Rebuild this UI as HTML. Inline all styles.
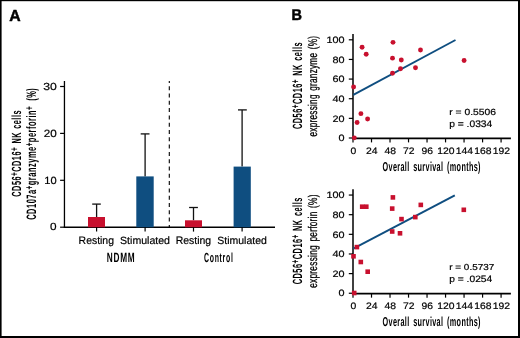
<!DOCTYPE html>
<html><head><meta charset="utf-8"><style>
html,body{margin:0;padding:0;background:#fff;width:520px;height:338px;overflow:hidden;}
svg{display:block;will-change:transform;font-family:"Liberation Sans", sans-serif;text-rendering:geometricPrecision;}
</style></head><body>
<svg width="520" height="338" viewBox="0 0 520 338">
<rect x="0" y="0" width="520" height="338" fill="#000"/>
<rect x="1.6" y="1.2" width="516.4" height="334.8" fill="#fff"/>
<text transform="translate(9.308,20.685) scale(0.9882,1)" font-size="15.997" font-weight="bold" fill="#000" stroke="#000" stroke-width="0.5" stroke-linejoin="round">A</text>
<text transform="translate(291.451,20.232) scale(0.9365,1)" font-size="15.468" font-weight="bold" fill="#000" stroke="#000" stroke-width="0.5" stroke-linejoin="round">B</text>
<line x1="64.45" y1="81" x2="64.45" y2="227.95000000000002" stroke="#000" stroke-width="1.3"/>
<line x1="63.800000000000004" y1="227.3" x2="275" y2="227.3" stroke="#000" stroke-width="1.5"/>
<line x1="60.1" y1="227.20" x2="64.45" y2="227.20" stroke="#000" stroke-width="1.2"/>
<line x1="60.1" y1="180.30" x2="64.45" y2="180.30" stroke="#000" stroke-width="1.2"/>
<line x1="60.1" y1="133.40" x2="64.45" y2="133.40" stroke="#000" stroke-width="1.2"/>
<line x1="60.1" y1="86.50" x2="64.45" y2="86.50" stroke="#000" stroke-width="1.2"/>
<text transform="translate(49.876,230.183) scale(1.1324,1)" font-size="10.429" fill="#000" stroke="#000" stroke-width="0.2">0</text>
<text transform="translate(44.215,183.627) scale(1.0595,1)" font-size="10.476" fill="#000" stroke="#000" stroke-width="0.2">10</text>
<text transform="translate(43.664,136.626) scale(1.1051,1)" font-size="10.546" fill="#000" stroke="#000" stroke-width="0.2">20</text>
<text transform="translate(43.254,89.517) scale(1.1851,1)" font-size="10.328" fill="#000" stroke="#000" stroke-width="0.2">30</text>
<line x1="169.3" y1="81" x2="169.3" y2="227.3" stroke="#000" stroke-width="1.1" stroke-dasharray="4 3.3" stroke-dashoffset="2.1"/>
<line x1="96.6" y1="204.1" x2="96.6" y2="217.0" stroke="#111" stroke-width="1.3"/>
<line x1="92.2" y1="204.1" x2="100.8" y2="204.1" stroke="#111" stroke-width="1.3"/>
<rect x="88.0" y="217.0" width="17.00" height="10.30" fill="#c8102e"/>
<line x1="96.6" y1="227.3" x2="96.6" y2="231.6" stroke="#000" stroke-width="1.2"/>
<line x1="145.1" y1="133.9" x2="145.1" y2="176.4" stroke="#111" stroke-width="1.3"/>
<line x1="140.7" y1="133.9" x2="149.5" y2="133.9" stroke="#111" stroke-width="1.3"/>
<rect x="136.3" y="176.4" width="17.40" height="50.90" fill="#0f4e80"/>
<line x1="145.1" y1="227.3" x2="145.1" y2="231.6" stroke="#000" stroke-width="1.2"/>
<line x1="193.5" y1="207.5" x2="193.5" y2="220.3" stroke="#111" stroke-width="1.3"/>
<line x1="189.1" y1="207.5" x2="197.9" y2="207.5" stroke="#111" stroke-width="1.3"/>
<rect x="185.0" y="220.3" width="17.00" height="7.00" fill="#c8102e"/>
<line x1="193.5" y1="227.3" x2="193.5" y2="231.6" stroke="#000" stroke-width="1.2"/>
<line x1="242.1" y1="109.9" x2="242.1" y2="166.6" stroke="#111" stroke-width="1.3"/>
<line x1="238.0" y1="109.9" x2="246.8" y2="109.9" stroke="#111" stroke-width="1.3"/>
<rect x="233.6" y="166.6" width="17.20" height="60.70" fill="#0f4e80"/>
<line x1="242.1" y1="227.3" x2="242.1" y2="231.6" stroke="#000" stroke-width="1.2"/>
<text transform="translate(78.610,243.578) scale(0.9589,1)" font-size="10.894" fill="#000" stroke="#000" stroke-width="0.2">Resting</text>
<text transform="translate(120.042,243.651) scale(1.0022,1)" font-size="10.557" fill="#000" stroke="#000" stroke-width="0.2">Stimulated</text>
<text transform="translate(175.721,243.636) scale(0.9633,1)" font-size="10.867" fill="#000" stroke="#000" stroke-width="0.2">Resting</text>
<text transform="translate(217.340,243.985) scale(0.9941,1)" font-size="10.547" fill="#000" stroke="#000" stroke-width="0.2">Stimulated</text>
<text transform="translate(106.628,262.203) scale(0.6154,1)" font-size="13.418" font-weight="bold" fill="#000" letter-spacing="1.3" word-spacing="1.5">NDMM</text>
<text transform="translate(204.025,262.001) scale(0.5297,1)" font-size="13.128" font-weight="bold" fill="#000" letter-spacing="1.3" word-spacing="1.5">Control</text>
<text transform="translate(20.899,196.692) rotate(-90) scale(0.5533,1)" font-size="13.263" font-weight="bold" fill="#000" letter-spacing="0.9" word-spacing="1.2">CD56<tspan dy="-3" font-size="11.5">+</tspan><tspan dy="3">CD16</tspan><tspan dy="-3" font-size="11.5">+</tspan><tspan dy="3"> NK cells</tspan></text>
<text transform="translate(36.433,219.817) rotate(-90) scale(0.5481,1)" font-size="13.660" font-weight="bold" fill="#000" letter-spacing="0.9" word-spacing="1.2">CD107a<tspan dy="-3" font-size="11.5">+</tspan><tspan dy="3">granzyme</tspan><tspan dy="-3" font-size="11.5">+</tspan><tspan dy="3">perforin</tspan><tspan dy="-3" font-size="11.5">+</tspan><tspan dy="3"> <tspan dx="3">(%)</tspan></tspan></text>
<line x1="353.0" y1="33.90" x2="353.0" y2="138.80" stroke="#000" stroke-width="1.5"/>
<line x1="352.25" y1="138.35" x2="510.9" y2="138.35" stroke="#000" stroke-width="1.6"/>
<line x1="348.8" y1="138.00" x2="353.0" y2="138.00" stroke="#000" stroke-width="1.2"/>
<line x1="348.8" y1="118.36" x2="353.0" y2="118.36" stroke="#000" stroke-width="1.2"/>
<line x1="348.8" y1="98.72" x2="353.0" y2="98.72" stroke="#000" stroke-width="1.2"/>
<line x1="348.8" y1="79.08" x2="353.0" y2="79.08" stroke="#000" stroke-width="1.2"/>
<line x1="348.8" y1="59.44" x2="353.0" y2="59.44" stroke="#000" stroke-width="1.2"/>
<line x1="348.8" y1="39.80" x2="353.0" y2="39.80" stroke="#000" stroke-width="1.2"/>
<text transform="translate(344.55,141.235) scale(1.1714,1)" font-size="9.260" text-anchor="end" fill="#000" stroke="#000" stroke-width="0.2">0</text>
<text transform="translate(344.55,121.595) scale(1.1714,1)" font-size="9.260" text-anchor="end" fill="#000" stroke="#000" stroke-width="0.2">20</text>
<text transform="translate(344.55,101.955) scale(1.1714,1)" font-size="9.260" text-anchor="end" fill="#000" stroke="#000" stroke-width="0.2">40</text>
<text transform="translate(344.55,82.315) scale(1.1714,1)" font-size="9.260" text-anchor="end" fill="#000" stroke="#000" stroke-width="0.2">60</text>
<text transform="translate(344.55,62.675) scale(1.1714,1)" font-size="9.260" text-anchor="end" fill="#000" stroke="#000" stroke-width="0.2">80</text>
<text transform="translate(344.55,43.035) scale(1.1714,1)" font-size="9.260" text-anchor="end" fill="#000" stroke="#000" stroke-width="0.2">100</text>
<line x1="353.00" y1="138.35" x2="353.00" y2="142.40" stroke="#000" stroke-width="1.2"/>
<text transform="translate(353.30,153.796) scale(1.1073,1)" font-size="9.360" text-anchor="middle" fill="#000" stroke="#000" stroke-width="0.2">0</text>
<line x1="371.51" y1="138.35" x2="371.51" y2="142.40" stroke="#000" stroke-width="1.2"/>
<text transform="translate(371.81,153.796) scale(1.1073,1)" font-size="9.360" text-anchor="middle" fill="#000" stroke="#000" stroke-width="0.2">24</text>
<line x1="390.02" y1="138.35" x2="390.02" y2="142.40" stroke="#000" stroke-width="1.2"/>
<text transform="translate(390.32,153.796) scale(1.1073,1)" font-size="9.360" text-anchor="middle" fill="#000" stroke="#000" stroke-width="0.2">48</text>
<line x1="408.53" y1="138.35" x2="408.53" y2="142.40" stroke="#000" stroke-width="1.2"/>
<text transform="translate(408.83,153.796) scale(1.1073,1)" font-size="9.360" text-anchor="middle" fill="#000" stroke="#000" stroke-width="0.2">72</text>
<line x1="427.04" y1="138.35" x2="427.04" y2="142.40" stroke="#000" stroke-width="1.2"/>
<text transform="translate(427.34,153.796) scale(1.1073,1)" font-size="9.360" text-anchor="middle" fill="#000" stroke="#000" stroke-width="0.2">96</text>
<line x1="445.55" y1="138.35" x2="445.55" y2="142.40" stroke="#000" stroke-width="1.2"/>
<text transform="translate(445.85,153.796) scale(1.1073,1)" font-size="9.360" text-anchor="middle" fill="#000" stroke="#000" stroke-width="0.2">120</text>
<line x1="464.06" y1="138.35" x2="464.06" y2="142.40" stroke="#000" stroke-width="1.2"/>
<text transform="translate(464.36,153.796) scale(1.1073,1)" font-size="9.360" text-anchor="middle" fill="#000" stroke="#000" stroke-width="0.2">144</text>
<line x1="482.57" y1="138.35" x2="482.57" y2="142.40" stroke="#000" stroke-width="1.2"/>
<text transform="translate(482.87,153.796) scale(1.1073,1)" font-size="9.360" text-anchor="middle" fill="#000" stroke="#000" stroke-width="0.2">168</text>
<line x1="501.08" y1="138.35" x2="501.08" y2="142.40" stroke="#000" stroke-width="1.2"/>
<text transform="translate(501.38,153.796) scale(1.1073,1)" font-size="9.360" text-anchor="middle" fill="#000" stroke="#000" stroke-width="0.2">192</text>
<line x1="353.3" y1="94.80" x2="455.5" y2="40.00" stroke="#0f4e80" stroke-width="1.9"/>
<circle cx="362.10" cy="47.25" r="2.45" fill="#c8102e"/>
<circle cx="366.20" cy="54.25" r="2.45" fill="#c8102e"/>
<circle cx="393.00" cy="42.35" r="2.45" fill="#c8102e"/>
<circle cx="392.50" cy="58.15" r="2.45" fill="#c8102e"/>
<circle cx="401.30" cy="60.05" r="2.45" fill="#c8102e"/>
<circle cx="400.50" cy="68.75" r="2.45" fill="#c8102e"/>
<circle cx="392.50" cy="73.25" r="2.45" fill="#c8102e"/>
<circle cx="415.50" cy="67.75" r="2.45" fill="#c8102e"/>
<circle cx="420.50" cy="49.95" r="2.45" fill="#c8102e"/>
<circle cx="464.10" cy="60.45" r="2.45" fill="#c8102e"/>
<circle cx="353.60" cy="87.05" r="2.45" fill="#c8102e"/>
<circle cx="360.90" cy="113.65" r="2.45" fill="#c8102e"/>
<circle cx="357.10" cy="122.55" r="2.45" fill="#c8102e"/>
<circle cx="367.60" cy="118.95" r="2.45" fill="#c8102e"/>
<circle cx="354.30" cy="137.85" r="2.45" fill="#c8102e"/>
<text transform="translate(449.259,115.385) scale(1.1628,1)" font-size="8.862" fill="#000" stroke="#000" stroke-width="0.2">r = 0.5506</text>
<text transform="translate(449.142,126.999) scale(1.0853,1)" font-size="9.475" fill="#000" stroke="#000" stroke-width="0.2">p = .0334</text>
<text transform="translate(382.546,170.564) scale(0.5598,1)" font-size="12.968" font-weight="bold" fill="#000" letter-spacing="0.6" word-spacing="2.5">Overall survival (months)</text>
<text transform="translate(302.220,129.031) rotate(-90) scale(0.5516,1)" font-size="13.384" font-weight="bold" fill="#000" letter-spacing="0.9" word-spacing="1.2">CD56<tspan dy="-3" font-size="11.5">+</tspan><tspan dy="3">CD16</tspan><tspan dy="-3" font-size="11.5">+</tspan><tspan dy="3"> NK cells</tspan></text>
<text transform="translate(316.861,136.491) rotate(-90) scale(0.6466,1)" font-size="12.689" fill="#000" letter-spacing="0.4" word-spacing="1.5" stroke="#000" stroke-width="0.3">expressing granzyme (%)</text>
<line x1="353.0" y1="189.15" x2="353.0" y2="294.05" stroke="#000" stroke-width="1.5"/>
<line x1="352.25" y1="293.60" x2="510.9" y2="293.60" stroke="#000" stroke-width="1.6"/>
<line x1="348.8" y1="293.25" x2="353.0" y2="293.25" stroke="#000" stroke-width="1.2"/>
<line x1="348.8" y1="273.61" x2="353.0" y2="273.61" stroke="#000" stroke-width="1.2"/>
<line x1="348.8" y1="253.97" x2="353.0" y2="253.97" stroke="#000" stroke-width="1.2"/>
<line x1="348.8" y1="234.33" x2="353.0" y2="234.33" stroke="#000" stroke-width="1.2"/>
<line x1="348.8" y1="214.69" x2="353.0" y2="214.69" stroke="#000" stroke-width="1.2"/>
<line x1="348.8" y1="195.05" x2="353.0" y2="195.05" stroke="#000" stroke-width="1.2"/>
<text transform="translate(344.55,296.485) scale(1.1714,1)" font-size="9.260" text-anchor="end" fill="#000" stroke="#000" stroke-width="0.2">0</text>
<text transform="translate(344.55,276.845) scale(1.1714,1)" font-size="9.260" text-anchor="end" fill="#000" stroke="#000" stroke-width="0.2">20</text>
<text transform="translate(344.55,257.205) scale(1.1714,1)" font-size="9.260" text-anchor="end" fill="#000" stroke="#000" stroke-width="0.2">40</text>
<text transform="translate(344.55,237.565) scale(1.1714,1)" font-size="9.260" text-anchor="end" fill="#000" stroke="#000" stroke-width="0.2">60</text>
<text transform="translate(344.55,217.925) scale(1.1714,1)" font-size="9.260" text-anchor="end" fill="#000" stroke="#000" stroke-width="0.2">80</text>
<text transform="translate(344.55,198.285) scale(1.1714,1)" font-size="9.260" text-anchor="end" fill="#000" stroke="#000" stroke-width="0.2">100</text>
<line x1="353.00" y1="293.60" x2="353.00" y2="297.65" stroke="#000" stroke-width="1.2"/>
<text transform="translate(353.30,309.046) scale(1.1073,1)" font-size="9.360" text-anchor="middle" fill="#000" stroke="#000" stroke-width="0.2">0</text>
<line x1="371.51" y1="293.60" x2="371.51" y2="297.65" stroke="#000" stroke-width="1.2"/>
<text transform="translate(371.81,309.046) scale(1.1073,1)" font-size="9.360" text-anchor="middle" fill="#000" stroke="#000" stroke-width="0.2">24</text>
<line x1="390.02" y1="293.60" x2="390.02" y2="297.65" stroke="#000" stroke-width="1.2"/>
<text transform="translate(390.32,309.046) scale(1.1073,1)" font-size="9.360" text-anchor="middle" fill="#000" stroke="#000" stroke-width="0.2">48</text>
<line x1="408.53" y1="293.60" x2="408.53" y2="297.65" stroke="#000" stroke-width="1.2"/>
<text transform="translate(408.83,309.046) scale(1.1073,1)" font-size="9.360" text-anchor="middle" fill="#000" stroke="#000" stroke-width="0.2">72</text>
<line x1="427.04" y1="293.60" x2="427.04" y2="297.65" stroke="#000" stroke-width="1.2"/>
<text transform="translate(427.34,309.046) scale(1.1073,1)" font-size="9.360" text-anchor="middle" fill="#000" stroke="#000" stroke-width="0.2">96</text>
<line x1="445.55" y1="293.60" x2="445.55" y2="297.65" stroke="#000" stroke-width="1.2"/>
<text transform="translate(445.85,309.046) scale(1.1073,1)" font-size="9.360" text-anchor="middle" fill="#000" stroke="#000" stroke-width="0.2">120</text>
<line x1="464.06" y1="293.60" x2="464.06" y2="297.65" stroke="#000" stroke-width="1.2"/>
<text transform="translate(464.36,309.046) scale(1.1073,1)" font-size="9.360" text-anchor="middle" fill="#000" stroke="#000" stroke-width="0.2">144</text>
<line x1="482.57" y1="293.60" x2="482.57" y2="297.65" stroke="#000" stroke-width="1.2"/>
<text transform="translate(482.87,309.046) scale(1.1073,1)" font-size="9.360" text-anchor="middle" fill="#000" stroke="#000" stroke-width="0.2">168</text>
<line x1="501.08" y1="293.60" x2="501.08" y2="297.65" stroke="#000" stroke-width="1.2"/>
<text transform="translate(501.38,309.046) scale(1.1073,1)" font-size="9.360" text-anchor="middle" fill="#000" stroke="#000" stroke-width="0.2">192</text>
<line x1="353.3" y1="248.70" x2="454.8" y2="195.30" stroke="#0f4e80" stroke-width="1.9"/>
<rect x="359.90" y="204.40" width="4.6" height="4.6" fill="#c8102e"/>
<rect x="364.00" y="204.40" width="4.6" height="4.6" fill="#c8102e"/>
<rect x="390.60" y="195.10" width="4.6" height="4.6" fill="#c8102e"/>
<rect x="389.90" y="206.30" width="4.6" height="4.6" fill="#c8102e"/>
<rect x="399.20" y="216.80" width="4.6" height="4.6" fill="#c8102e"/>
<rect x="389.90" y="229.20" width="4.6" height="4.6" fill="#c8102e"/>
<rect x="397.70" y="231.00" width="4.6" height="4.6" fill="#c8102e"/>
<rect x="413.00" y="214.80" width="4.6" height="4.6" fill="#c8102e"/>
<rect x="418.50" y="202.60" width="4.6" height="4.6" fill="#c8102e"/>
<rect x="461.50" y="207.50" width="4.6" height="4.6" fill="#c8102e"/>
<rect x="354.60" y="244.80" width="4.6" height="4.6" fill="#c8102e"/>
<rect x="351.20" y="254.00" width="4.6" height="4.6" fill="#c8102e"/>
<rect x="358.50" y="259.70" width="4.6" height="4.6" fill="#c8102e"/>
<rect x="365.40" y="269.40" width="4.6" height="4.6" fill="#c8102e"/>
<rect x="351.90" y="290.70" width="4.6" height="4.6" fill="#c8102e"/>
<text transform="translate(449.270,270.359) scale(1.1372,1)" font-size="8.723" fill="#000" stroke="#000" stroke-width="0.2">r = 0.5737</text>
<text transform="translate(449.258,282.288) scale(1.1022,1)" font-size="9.298" fill="#000" stroke="#000" stroke-width="0.2">p = .0254</text>
<text transform="translate(382.546,325.814) scale(0.5598,1)" font-size="12.968" font-weight="bold" fill="#000" letter-spacing="0.6" word-spacing="2.5">Overall survival (months)</text>
<text transform="translate(302.220,284.281) rotate(-90) scale(0.5516,1)" font-size="13.384" font-weight="bold" fill="#000" letter-spacing="0.9" word-spacing="1.2">CD56<tspan dy="-3" font-size="11.5">+</tspan><tspan dy="3">CD16</tspan><tspan dy="-3" font-size="11.5">+</tspan><tspan dy="3"> NK cells</tspan></text>
<text transform="translate(317.202,287.781) rotate(-90) scale(0.6562,1)" font-size="12.623" fill="#000" letter-spacing="0.4" word-spacing="1.5" stroke="#000" stroke-width="0.3">expressing perforin (%)</text>
</svg>
</body></html>
